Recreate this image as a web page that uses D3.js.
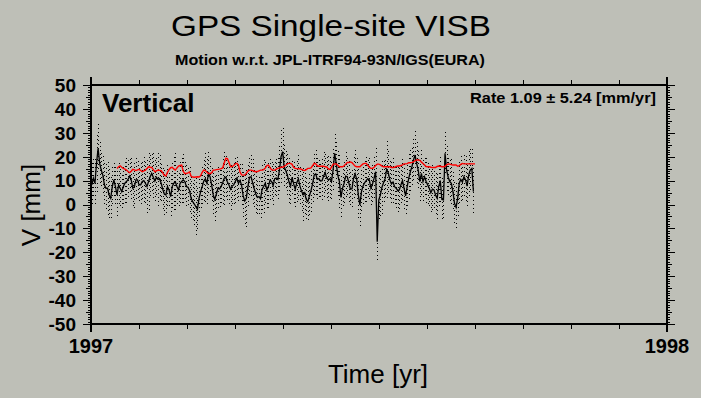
<!DOCTYPE html>
<html>
<head>
<meta charset="utf-8">
<script src="https://cdnjs.cloudflare.com/ajax/libs/d3/7.8.5/d3.min.js"></script>
<style>
  body { margin: 0; background: #bebfb7; }
  svg { display: block; }
  text { font-family: "Liberation Sans", Arial, sans-serif; fill: #000; }
</style>
</head>
<body>
<div id="chart"></div>
<script>
// daily vertical residuals (mm), day 0 = 1997.0
var vertical = [
  8.2, 11.0, 8.9, 17.2, 23.5, 17.2, 14.4, 12.3, 8.2, 6.8,
  6.8, 4.0, 2.6, 7.5, 10.3, 7.5, 4.0, 8.2, 6.8, 5.4,
  7.5, 8.9, 9.6, 10.5, 11.9, 10.3, 6.8, 7.5, 10.3, 10.3,
  8.2, 8.2, 9.6, 10.0, 8.9, 7.5, 9.6, 11.6, 13.0, 11.4,
  9.8, 11.4, 10.5, 10.8, 8.9, 6.4, 4.4, 4.0, 7.5, 6.1,
  3.3, 7.5, 8.9, 9.4, 7.5, 6.1, 8.9, 9.6, 10.3, 9.6,
  7.5, 7.2, 5.8, 2.6, 1.2, 0.2, -0.9, -2.0, 2.6, 5.4,
  7.5, 9.8, 10.7, 8.9, 13.0, 11.6, 8.2, 4.0, 2.1, 4.4,
  6.8, 6.5, 7.5, 9.1, 11.0, 11.4, 9.4, 8.2, 6.4, 7.7,
  8.2, 9.6, 11.0, 8.9, 10.1, 8.0, 3.6, 1.5, 2.6, 7.5,
  11.4, 11.6, 9.1, 6.6, 4.4, 3.0, 3.3, 2.4, 6.4, 7.6,
  8.9, 6.1, 7.5, 10.1, 9.7, 7.9, 10.8, 11.1, 10.5, 14.4,
  20.0, 22.1, 15.8, 14.2, 12.3, 9.6, 7.5, 11.4, 8.6, 6.4,
  9.1, 10.8, 7.7, 5.6, 4.1, 4.9, 2.1, 1.2, 3.6, 5.8,
  8.6, 12.3, 12.8, 10.5, 10.8, 9.8, 10.0, 11.9, 13.3, 11.0,
  10.3, 10.8, 9.6, 14.4, 21.4, 17.2, 12.3, 9.7, 3.0, 6.8,
  8.9, 11.9, 11.6, 9.1, 6.4, 6.6, 11.0, 12.8, 10.5, 4.0,
  -0.2, 5.4, 7.7, 9.1, 10.0, 10.8, 10.3, 6.8, 8.6, 11.0,
  13.7, -15.6, 1.9, 4.0, 7.2, 9.1, 10.8, 14.7, 13.3, 10.3,
  8.6, 9.4, 7.5, 6.8, 5.8, 6.1, 8.2, 10.0, 6.8, 3.6,
  7.5, 11.0, 13.7, 15.8, 18.6, 20.7, 17.2, 14.4, 9.6, 13.0,
  9.6, 11.6, 9.6, 8.2, 6.8, 4.9, 6.4, 6.1, 4.0, 2.6,
  7.5, 10.0, 2.1, 1.9, 21.4, 14.4, 11.4, 9.6, 8.9, 5.4,
  0.5, -1.2, 2.6, 8.9, 10.5, 9.4, 11.6, 10.3, 7.7, 12.3,
  14.4, 15.1, 5.4
];

// one-sigma error bars (mm)
var sigma = [
  9, 8, 10, 12, 10, 9, 7, 8, 9, 10,
  11, 11, 9, 8, 7, 8, 10, 9, 8, 7,
  8, 9, 10, 8, 7, 9, 8, 10, 9, 8,
  7, 9, 8, 10, 9, 11, 12, 9, 8, 10,
  9, 8, 11, 10, 8, 9, 10, 8, 9, 7,
  9, 10, 11, 12, 8, 7, 9, 10, 11, 8,
  9, 8, 10, 9, 8, 10, 12, 9, 8, 7,
  8, 9, 11, 10, 9, 8, 7, 9, 10, 8,
  9, 8, 7, 10, 11, 9, 8, 9, 10, 8,
  9, 10, 9, 8, 7, 9, 10, 11, 12, 9,
  8, 9, 10, 8, 9, 7, 8, 9, 10, 11,
  9, 8, 10, 9, 8, 9, 7, 8, 9, 10,
  11, 10, 9, 8, 9, 10, 8, 7, 9, 8,
  9, 10, 8, 9, 11, 10, 9, 8, 9, 10,
  8, 9, 10, 9, 8, 7, 9, 10, 8, 9,
  10, 9, 8, 9, 8, 9, 10, 11, 9, 8,
  9, 10, 8, 9, 7, 8, 9, 10, 9, 11,
  10, 9, 8, 9, 10, 8, 9, 7, 8, 9,
  10, 8, 9, 10, 11, 9, 8, 12, 9, 8,
  9, 10, 8, 9, 10, 9, 8, 9, 10, 8,
  9, 10, 9, 8, 9, 10, 9, 8, 9, 10,
  9, 8, 10, 9, 8, 9, 10, 8, 9, 10,
  9, 10, 9, 8, 9, 10, 8, 9, 10, 8,
  9, 10, 8, 9, 10, 8, 9, 10, 9, 10,
  9, 8, 10
];

// running mean (red), starts at day 16
var meanStart = 16;
var runningMean = [
  15.1, 15.8, 16.2, 15.6, 15.1, 14.8, 14.4, 13.8, 13.3, 13.9,
  14.7, 14.5, 14.2, 14.5, 14.7, 14.2, 13.7, 14.1, 14.4, 15.1,
  15.8, 15.6, 15.5, 14.6, 13.7, 14.1, 14.4, 14.3, 14.2, 13.2,
  12.2, 12.0, 13.5, 14.6, 15.4, 15.6, 14.9, 14.4, 15.3, 16.1,
  16.3, 16.5, 13.8, 13.0, 13.0, 13.2, 13.6, 11.8, 11.5, 11.4,
  11.5, 11.6, 11.5, 12.0, 13.5, 14.4, 14.2, 13.5, 13.0, 13.0,
  13.2, 14.4, 14.4, 14.6, 14.7, 14.8, 15.0, 15.3, 17.5, 19.3,
  19.2, 17.6, 15.8, 15.9, 16.3, 17.0, 17.2, 16.5, 13.6, 12.4,
  12.3, 12.3, 13.0, 14.0, 14.4, 14.4, 14.2, 13.9, 13.7, 13.8,
  14.1, 14.4, 14.4, 14.6, 15.2, 16.3, 16.5, 15.4, 14.6, 14.4,
  14.4, 14.8, 15.1, 15.3, 15.6, 15.6, 15.9, 16.4, 17.0, 17.2,
  17.2, 16.8, 15.6, 15.1, 15.0, 14.9, 15.0, 14.7, 14.4, 14.2,
  14.6, 15.1, 15.1, 15.3, 16.2, 17.2, 17.0, 16.2, 16.0, 16.0,
  16.0, 16.0, 15.8, 15.7, 14.9, 14.7, 15.6, 16.8, 17.0, 17.0,
  16.4, 15.8, 15.8, 15.8, 16.2, 16.9, 17.6, 17.6, 17.8, 17.5,
  16.8, 16.0, 15.8, 15.8, 15.8, 16.4, 17.0, 17.2, 17.2, 16.4,
  15.6, 15.1, 15.1, 15.6, 16.3, 16.9, 16.9, 16.6, 16.1, 15.8,
  15.8, 15.8, 15.8, 15.8, 15.5, 15.5, 15.6, 15.9, 16.1, 16.1,
  16.3, 16.6, 17.0, 17.0, 17.1, 17.5, 17.5, 17.6, 17.8, 18.4,
  18.6, 18.6, 18.5, 17.8, 17.2, 16.5, 15.9, 15.8, 15.8, 15.6,
  15.5, 15.5, 15.5, 15.9, 16.1, 16.0, 15.8, 15.8, 16.0, 16.6,
  17.0, 16.9, 16.7, 16.5, 16.5, 16.5, 16.0, 16.3, 16.8, 17.2,
  17.0, 17.0, 17.0, 17.0, 17.0, 17.0, 17.0, 17.0
];

var yearTicks = [1997, 1998];
var yTicks = [50, 40, 30, 20, 10, 0, -10, -20, -30, -40, -50];

var W = 701, H = 398;
var margin = {top: 85, right: 34, bottom: 74, left: 91};
var width = W - margin.left - margin.right,
    height = H - margin.top - margin.bottom;

var svg = d3.select("#chart").append("svg")
    .attr("width", W)
    .attr("height", H);

var g = svg.append("g")
    .attr("transform", "translate(" + margin.left + "," + margin.top + ")");

var x = d3.scaleLinear().domain([1997, 1998]).range([0, width]);
var y = d3.scaleLinear().domain([-50, 50]).range([height, 0]);

function dayToYear(d) { return 1997 + (d + 0.5) / 365.25; }

// error bars (dotted)
g.append("g").selectAll("line")
    .data(vertical)
    .enter().append("line")
    .attr("x1", function(d, i) { return Math.round(x(dayToYear(i))) + 0.5; })
    .attr("x2", function(d, i) { return Math.round(x(dayToYear(i))) + 0.5; })
    .attr("y1", function(d, i) { return y(d + sigma[i]); })
    .attr("y2", function(d, i) { return y(d - sigma[i]); })
    .attr("stroke", "#000")
    .attr("stroke-width", 1)
    .attr("stroke-dasharray", "1,3")
    .attr("shape-rendering", "crispEdges");

// black daily series
var line = d3.line()
    .x(function(d, i) { return x(dayToYear(i)); })
    .y(function(d) { return y(d); });

g.append("path")
    .datum(vertical)
    .attr("d", line)
    .attr("fill", "none")
    .attr("stroke", "#000")
    .attr("stroke-width", 1.3);

// red running mean
var meanLine = d3.line()
    .x(function(d, i) { return x(dayToYear(i + meanStart)); })
    .y(function(d) { return y(d); });

g.append("path")
    .datum(runningMean)
    .attr("d", meanLine)
    .attr("fill", "none")
    .attr("stroke", "#ff0000")
    .attr("stroke-width", 1.4);

// frame + ticks
var yMinor = d3.range(-50, 51, 1);
var months = d3.range(1, 12).map(function(m) { return 1997 + m / 12; });

function yTickLen(v) { return v % 10 === 0 ? 8 : (v % 5 === 0 ? 5 : 3); }

var axes = g.append("g").attr("stroke", "#000").attr("shape-rendering", "crispEdges");

// left and right minor/major ticks
axes.selectAll(".lt").data(yMinor).enter().append("line")
    .attr("x1", 0).attr("x2", function(v) { return -yTickLen(v); })
    .attr("y1", function(v) { return Math.round(y(v)) + 0.5; })
    .attr("y2", function(v) { return Math.round(y(v)) + 0.5; });
axes.selectAll(".rt").data(yMinor).enter().append("line")
    .attr("x1", width).attr("x2", function(v) { return width + yTickLen(v); })
    .attr("y1", function(v) { return Math.round(y(v)) + 0.5; })
    .attr("y2", function(v) { return Math.round(y(v)) + 0.5; });

// month ticks top/bottom
axes.selectAll(".bt").data(months).enter().append("line")
    .attr("x1", function(t) { return Math.round(x(t)) + 0.5; })
    .attr("x2", function(t) { return Math.round(x(t)) + 0.5; })
    .attr("y1", height).attr("y2", height + 5);
axes.selectAll(".tt").data(months).enter().append("line")
    .attr("x1", function(t) { return Math.round(x(t)) + 0.5; })
    .attr("x2", function(t) { return Math.round(x(t)) + 0.5; })
    .attr("y1", 0).attr("y2", -5);

// year ticks
axes.selectAll(".yb").data(yearTicks).enter().append("line")
    .attr("x1", function(t) { return x(t); })
    .attr("x2", function(t) { return x(t); })
    .attr("y1", -8).attr("y2", height + 8)
    .attr("stroke-width", 2);

// frame
axes.append("rect")
    .attr("x", 0).attr("y", 0)
    .attr("width", width).attr("height", height)
    .attr("fill", "none")
    .attr("stroke-width", 2.5);

// y tick labels
g.selectAll(".ylab").data(yTicks).enter().append("text")
    .attr("x", -15)
    .attr("y", function(v) { return y(v); })
    .attr("dy", "0.36em")
    .attr("text-anchor", "end")
    .style("font-size", "19px")
    .style("font-weight", "bold")
    .text(function(v) { return v; });

// x tick labels
g.selectAll(".xlab").data(yearTicks).enter().append("text")
    .attr("x", function(t) { return x(t); })
    .attr("y", height + 29)
    .attr("text-anchor", "middle")
    .style("font-size", "20px")
    .style("font-weight", "bold")
    .text(function(t) { return t; });

// titles and labels
svg.append("text")
    .attr("x", 331).attr("y", 36)
    .attr("text-anchor", "middle")
    .attr("textLength", 320).attr("lengthAdjust", "spacingAndGlyphs")
    .style("font-size", "30px")
    .text("GPS Single-site VISB");

svg.append("text")
    .attr("x", 330).attr("y", 65)
    .attr("text-anchor", "middle")
    .attr("textLength", 310).attr("lengthAdjust", "spacingAndGlyphs")
    .style("font-size", "15px")
    .style("font-weight", "bold")
    .text("Motion w.r.t. JPL-ITRF94-93N/IGS(EURA)");

svg.append("text")
    .attr("x", 378).attr("y", 383)
    .attr("text-anchor", "middle")
    .style("font-size", "26px")
    .text("Time [yr]");

svg.append("text")
    .attr("transform", "translate(40,205) rotate(-90)")
    .attr("text-anchor", "middle")
    .style("font-size", "26px")
    .text("V [mm]");

g.append("text")
    .attr("x", 11).attr("y", 27)
    .style("font-size", "26px")
    .style("font-weight", "bold")
    .text("Vertical");

g.append("text")
    .attr("x", width - 11).attr("y", 18)
    .attr("text-anchor", "end")
    .attr("textLength", 186).attr("lengthAdjust", "spacingAndGlyphs")
    .style("font-size", "15px")
    .style("font-weight", "bold")
    .text("Rate 1.09 \u00b1 5.24 [mm/yr]");
</script>
</body>
</html>
